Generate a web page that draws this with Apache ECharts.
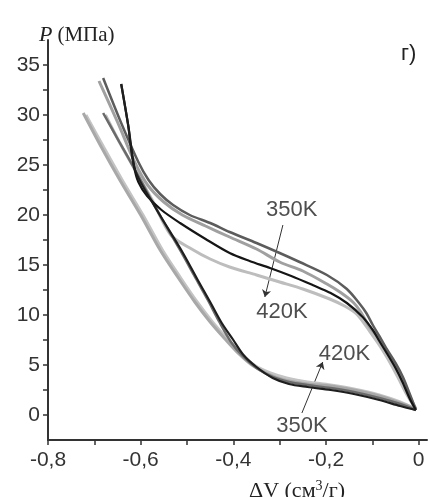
<!DOCTYPE html>
<html>
<head>
<meta charset="utf-8">
<script src="https://cdn.jsdelivr.net/npm/echarts@6/dist/echarts.min.js"></script>
<style>
html, body { margin: 0; padding: 0; background: #fff; }
#container { width: 428px; height: 497px; }
</style>
</head>
<body>
<div id="container"></div>
<script>
var xLabelTicks = [-0.8, -0.6, -0.4, -0.2, 0];
var xAllTicks = [-0.8, -0.7, -0.6, -0.5, -0.4, -0.3, -0.2, -0.1, 0];
var yLabelTicks = [0, 5, 10, 15, 20, 25, 30, 35];
var yAllTicks = [0, 2.5, 5, 7.5, 10, 12.5, 15, 17.5, 20, 22.5, 25, 27.5, 30, 32.5, 35];

// сжатие (верхние ветви), [dV, P]
var comp350 = [[-0.006,0.5],[-0.02,2.2],[-0.034,3.8],[-0.05,5.2],[-0.069,6.6],[-0.085,7.9],[-0.099,9.0],[-0.113,10.2],[-0.127,11.1],[-0.155,12.6],[-0.198,14.0],[-0.257,15.3],[-0.30,16.2],[-0.35,17.2],[-0.408,18.3],[-0.45,19.2],[-0.494,20.0],[-0.53,21.0],[-0.558,22.1],[-0.583,23.5],[-0.605,25.3],[-0.642,29.2],[-0.681,33.7]];
var comp2 = [[-0.006,0.6],[-0.02,2.0],[-0.034,3.5],[-0.05,4.9],[-0.069,6.3],[-0.085,7.6],[-0.106,8.8],[-0.125,10.3],[-0.142,11.3],[-0.17,12.3],[-0.198,13.1],[-0.25,14.4],[-0.30,15.3],[-0.35,16.6],[-0.408,17.8],[-0.46,18.9],[-0.51,20.0],[-0.55,21.3],[-0.585,23.0],[-0.612,25.2],[-0.65,29.3],[-0.69,33.4]];
var comp3 = [[-0.006,0.5],[-0.019,1.6],[-0.035,3.3],[-0.05,4.7],[-0.069,6.2],[-0.085,7.4],[-0.099,8.5],[-0.121,9.8],[-0.155,11.2],[-0.19,12.2],[-0.229,13.0],[-0.275,13.9],[-0.321,14.7],[-0.365,15.4],[-0.408,16.2],[-0.46,17.6],[-0.515,19.2],[-0.555,20.5],[-0.586,21.9],[-0.605,23.3],[-0.614,24.8],[-0.627,29.0],[-0.642,33.1]];
var comp420 = [[-0.006,0.6],[-0.025,2.0],[-0.045,3.8],[-0.065,5.5],[-0.085,7.0],[-0.106,8.4],[-0.134,10.1],[-0.16,10.9],[-0.192,11.6],[-0.25,12.6],[-0.30,13.3],[-0.35,14.0],[-0.408,14.8],[-0.45,15.6],[-0.49,16.6],[-0.535,18.0],[-0.575,21.5],[-0.612,24.5],[-0.646,27.3],[-0.676,30.0]];

// декомпрессия (нижние ветви)
var dec350 = [[-0.681,30.2],[-0.646,27.3],[-0.612,24.5],[-0.565,20.5],[-0.515,16.5],[-0.485,14.0],[-0.455,11.5],[-0.43,9.3],[-0.405,7.3],[-0.38,5.9],[-0.35,4.7],[-0.315,3.8],[-0.28,3.3],[-0.24,3.0],[-0.19,2.7],[-0.14,2.3],[-0.085,1.7],[-0.04,1.1],[-0.006,0.5]];
var dec2 = [[-0.724,30.2],[-0.685,26.8],[-0.645,23.5],[-0.60,20.0],[-0.558,16.5],[-0.52,13.8],[-0.483,11.3],[-0.45,9.3],[-0.418,7.6],[-0.39,6.2],[-0.36,5.0],[-0.325,4.1],[-0.29,3.5],[-0.24,3.1],[-0.19,2.9],[-0.14,2.5],[-0.085,1.9],[-0.04,1.2],[-0.006,0.6]];
var dec3 = [[-0.642,33.1],[-0.627,29.0],[-0.612,24.5],[-0.565,20.5],[-0.51,16.3],[-0.478,13.6],[-0.45,11.3],[-0.425,9.2],[-0.40,7.5],[-0.378,6.0],[-0.35,4.8],[-0.315,3.7],[-0.28,3.1],[-0.24,2.8],[-0.19,2.5],[-0.14,2.1],[-0.085,1.5],[-0.04,0.9],[-0.006,0.5]];
var dec420 = [[-0.718,30.0],[-0.68,26.8],[-0.64,23.5],[-0.595,20.0],[-0.553,16.5],[-0.515,13.8],[-0.478,11.3],[-0.445,9.3],[-0.413,7.6],[-0.385,6.2],[-0.355,5.0],[-0.32,4.2],[-0.285,3.7],[-0.24,3.3],[-0.19,3.0],[-0.14,2.6],[-0.085,2.0],[-0.04,1.3],[-0.006,0.6]];

var tempNames = ['350K', '420K', '420K', '350K'];
var tempPos = [[-0.274, 20.5], [-0.295, 10.3], [-0.160, 6.1], [-0.252, -1.1]];
var arrowFrom = [[-0.293, 19.0], [-0.252, 0.2]];
var arrowTo = [[-0.332, 11.8], [-0.207, 5.3]];

var dom = document.getElementById('container');
var myChart = echarts.init(dom, null, { renderer: 'canvas' });

function curve(data, color, width) {
    return {
        type: 'line',
        data: data,
        showSymbol: false,
        smooth: 0.3,
        lineStyle: { color: color, width: width },
        animation: false
    };
}

var labelFont = 'Liberation Sans, Arial, sans-serif';
var serifFont = 'Liberation Serif, serif';

var option = {
    backgroundColor: '#fff',
    animation: false,
    title: [{
        text: '{i|P} {n|(МПа)}',
        left: 34,
        top: 19,
        textStyle: {
            fontWeight: 'normal',
            rich: {
                i: { fontFamily: serifFont, fontStyle: 'italic', fontWeight: 'normal', fontSize: 22, color: '#222' },
                n: { fontFamily: serifFont, fontWeight: 'normal', fontSize: 21, color: '#222' }
            }
        }
    }, {
        text: 'г)',
        left: 396,
        top: 38,
        textStyle: { fontFamily: labelFont, fontWeight: 'normal', fontSize: 22, color: '#222' }
    }, {
        text: '{n|ΔV (см}{s|3}{n|/г)}',
        left: 244,
        top: 474,
        textStyle: {
            fontWeight: 'normal',
            rich: {
                n: { fontFamily: serifFont, fontWeight: 'normal', fontSize: 22, color: '#222' },
                s: { fontFamily: serifFont, fontWeight: 'normal', fontSize: 14, color: '#222', verticalAlign: 'top', padding: [0, 0, 10, 0] }
            }
        }
    }],
    grid: { left: 48, right: 1, top: 40, bottom: 57 },
    xAxis: {
        type: 'value',
        min: -0.8,
        max: 0.018,
        splitLine: { show: false },
        axisLine: { onZero: false, lineStyle: { color: '#333', width: 2 } },
        axisTick: { customValues: xAllTicks, length: 5, lineStyle: { color: '#333', width: 1.5 } },
        axisLabel: {
            customValues: xLabelTicks,
            margin: 10,
            fontFamily: labelFont,
            fontSize: 21,
            color: '#333',
            formatter: function (v) {
                return v === 0 ? '0' : v.toFixed(1).replace('.', ',');
            }
        }
    },
    yAxis: {
        type: 'value',
        min: -2.5,
        max: 37.5,
        splitLine: { show: false },
        axisLine: { onZero: false, lineStyle: { color: '#333', width: 2 } },
        axisTick: { customValues: yAllTicks, length: 5, lineStyle: { color: '#333', width: 1.5 } },
        axisLabel: {
            customValues: yLabelTicks,
            margin: 8,
            fontFamily: labelFont,
            fontSize: 21,
            color: '#333'
        }
    },
    series: [
        curve(comp420, '#bdbdbd', 3),
        curve(dec420, '#c4c4c4', 3),
        curve(comp2, '#a0a0a0', 3),
        curve(dec2, '#a8a8a8', 3),
        curve(comp350, '#5c5c5c', 2.5),
        curve(dec350, '#6a6a6a', 2.5),
        curve(comp3, '#151515', 2.2),
        curve(dec3, '#1e1e1e', 2.2),
        {
            type: 'lines',
            coordinateSystem: 'cartesian2d',
            symbol: ['none', 'arrow'],
            symbolSize: 7,
            lineStyle: { color: '#333', width: 1, opacity: 1 },
            data: arrowFrom.map(function (p, i) {
                return { coords: [p, arrowTo[i]] };
            }),
            animation: false
        },
        {
            type: 'scatter',
            symbolSize: 0,
            data: tempPos.map(function (p, i) {
                return { value: p, name: tempNames[i] };
            }),
            label: {
                show: true,
                position: 'inside',
                formatter: '{b}',
                fontFamily: labelFont,
                fontSize: 22,
                color: '#222'
            },
            animation: false
        }
    ]
};
myChart.setOption(option);
</script>
</body>
</html>
